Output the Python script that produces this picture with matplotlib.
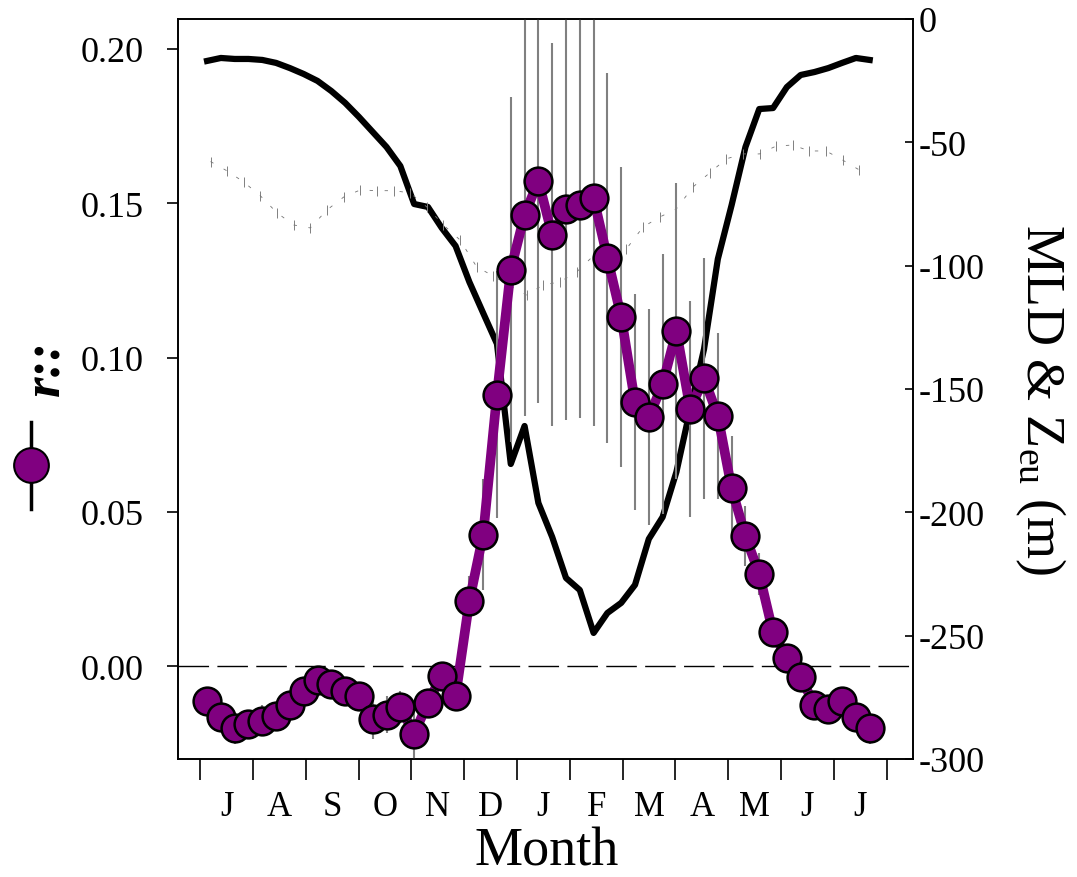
import numpy as np
import matplotlib
matplotlib.use("Agg")
import matplotlib.pyplot as plt
from matplotlib.lines import Line2D

plt.rcParams['font.family'] = ['Liberation Serif', 'DejaVu Serif']
plt.rcParams['mathtext.fontset'] = 'custom'
plt.rcParams['mathtext.rm'] = 'Liberation Serif'
plt.rcParams['axes.unicode_minus'] = False

months = ['J', 'A', 'S', 'O', 'N', 'D', 'J', 'F', 'M', 'A', 'M', 'J', 'J']

# 8-day composites, days counted from 1 July
day = 4 + 8 * np.arange(49)

r_val = [-0.0112, -0.0166, -0.0202, -0.0186, -0.0177, -0.0163, -0.0125, -0.0082,
         -0.0045, -0.0058, -0.0080, -0.0096, -0.0172, -0.0158, -0.0132, -0.0220,
         -0.0118, -0.0031, -0.0098, 0.0211, 0.0426, 0.0880, 0.1285, 0.1462,
         0.1572, 0.1398, 0.1481, 0.1494, 0.1517, 0.1323, 0.1132, 0.0855,
         0.0806, 0.0914, 0.1085, 0.0833, 0.0933, 0.0811, 0.0576, 0.0421,
         0.0299, 0.0109, 0.0026, -0.0036, -0.0126, -0.0139, -0.0112, -0.0165,
         -0.0202]

r_err = [0.002, 0.003, 0.005, 0.0045, 0.005, 0.004, 0.003, 0.002,
         0.002, 0.002, 0.002, 0.003, 0.0065, 0.006, 0.005, 0.0087,
         0.003, 0.002, 0.0047, 0.008, 0.018, 0.040, 0.056, 0.065,
         0.072, 0.062, 0.0685, 0.069, 0.074, 0.060, 0.0486, 0.035,
         0.035, 0.042, 0.048, 0.035, 0.039, 0.027, 0.017, 0.0097,
         0.0068, 0.004, 0.003, 0.003, 0.003, 0.003, 0.003, 0.004,
         0.005]

# mixed layer depth (m)
mld = [-17.0, -15.8, -16.2, -16.2, -16.6, -17.8, -19.9, -22.3,
       -25.1, -29.2, -34.0, -39.7, -45.8, -51.9, -59.6, -75.0,
       -76.2, -84.7, -92.0, -106.6, -119.2, -131.7, -180.4, -165.0,
       -196.2, -210.0, -226.6, -231.5, -248.9, -240.8, -236.7, -229.4,
       -210.8, -201.9, -183.6, -158.1, -133.8, -97.3, -75.4, -51.9,
       -36.5, -36.1, -27.6, -22.7, -21.5, -19.9, -17.8, -15.8,
       -16.6]

# euphotic depth (m)
zeu_day = np.linspace(6, 382, 40)
zeu = [-57.8, -61.6, -66.1, -71.7, -78.6, -83.5, -84.7, -77.4,
       -72.2, -69.3, -69.6, -69.6, -70.5, -76.2, -83.5, -89.6,
       -100.5, -104.2, -108.2, -111.9, -107.8, -106.6, -102.6, -96.1,
       -95.3, -93.2, -84.3, -80.3, -77.0, -68.1, -62.4, -56.7,
       -54.7, -54.7, -51.5, -51.1, -53.5, -53.5, -57.2, -61.2]

days_per_month = 30.6
x = day / days_per_month
zx = zeu_day / days_per_month

purple = '#800080'

fig = plt.figure(figsize=(10.77, 8.78), dpi=100)
ax = fig.add_axes([178 / 1077, 118 / 878, 735 / 1077, 740 / 878])
ax2 = ax.twinx()
ax.set_zorder(ax2.get_zorder() + 1)
ax.patch.set_visible(False)

# right axis: MLD and Zeu
ax2.plot(x, mld, color='black', lw=4.5)
ax2.errorbar(zx, zeu, yerr=2.0, fmt='none', ecolor='0.5', elinewidth=0.7)
ax2.plot(zx, zeu, ls=(0, (4, 14)), color='0.45', lw=0.6)
ax2.set_ylim(-300, 0)
ax2.set_yticks([-300, -250, -200, -150, -100, -50, 0])
ax2.tick_params(axis='y', direction='in', length=6, width=1.2, pad=4, labelsize=26)

# left axis: r
ax.axhline(0, color='black', lw=1.0, dashes=(22, 6), zorder=0)
ax.errorbar(x, r_val, yerr=r_err, fmt='none', ecolor='#808080', elinewidth=1.5, zorder=1)
ax.plot(x, r_val, color=purple, lw=7, zorder=2)
ax.plot(x, r_val, 'o', ms=20, mfc=purple, mec='black', mew=1.8, zorder=3)

ax.set_xlim(-0.42, 13.5)
ax.set_ylim(-0.0301, 0.2097)
ax.set_yticks([0, 0.05, 0.10, 0.15, 0.20])
ax.set_yticklabels(['%.2f' % v for v in [0, 0.05, 0.10, 0.15, 0.20]])
ax.tick_params(axis='y', direction='out', length=8, width=1.2, pad=17, labelsize=26)

ax.set_xticks(np.arange(14))
ax.set_xticklabels([])
ax.set_xticks(np.arange(13) + 0.5, minor=True)
ax.set_xticklabels(months, minor=True)
ax.tick_params(axis='x', which='major', direction='out', length=15, width=1.2)
ax.tick_params(axis='x', which='minor', length=0, pad=22, labelsize=25)

for a in (ax, ax2):
    for s in a.spines.values():
        s.set_linewidth(1.2)

fig.text(547 / 1077, (878 - 852) / 878, 'Month', ha='center', va='center', fontsize=39)
fig.text(1040 / 1077, (878 - 400) / 878, 'MLD & Z$_{\\mathrm{eu}}$ (m)', rotation=270,
         ha='center', va='center', fontsize=39)
fig.text(46 / 1077, (878 - 368) / 878, 'r::', rotation=90, ha='center', va='center',
         fontsize=38, fontweight='bold', style='italic')

# legend-like symbol beside the left label
fig.add_artist(Line2D([31 / 1077, 31 / 1077], [(878 - 423) / 878, (878 - 510) / 878],
                      color='black', lw=2.5))
fig.add_artist(Line2D([31 / 1077], [(878 - 466) / 878], marker='o', ms=25,
                      mfc=purple, mec='black', mew=1.5))

fig.savefig('out.png', dpi=100)
